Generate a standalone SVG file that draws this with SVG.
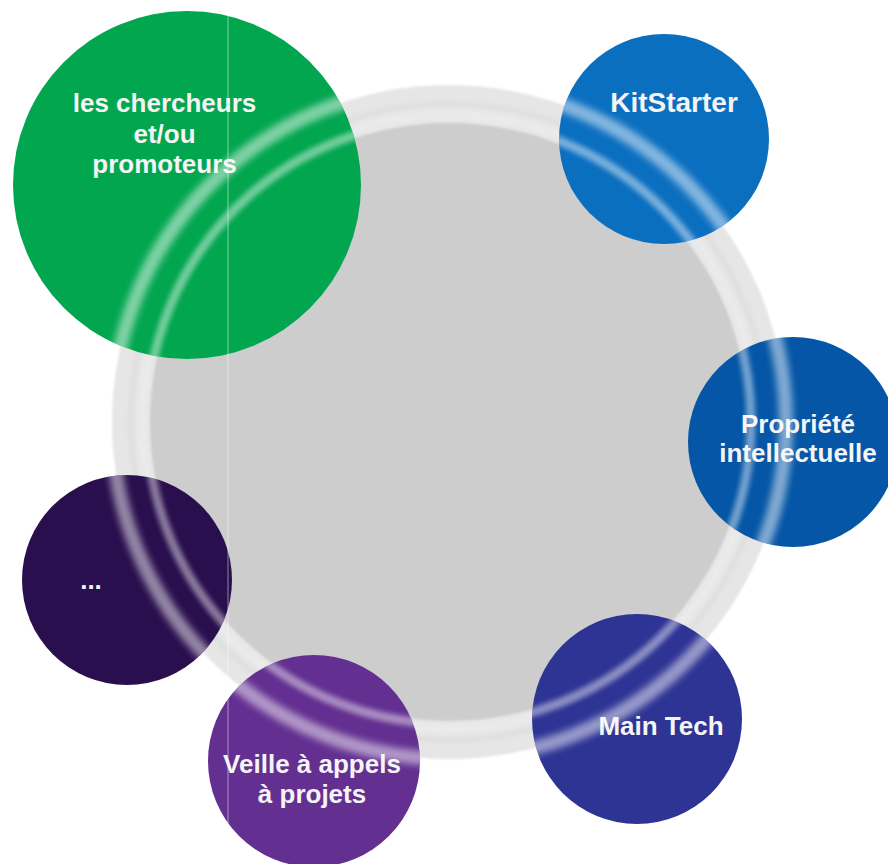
<svg xmlns="http://www.w3.org/2000/svg" width="888" height="864" viewBox="0 0 888 864">
  <defs>
    <style>
      .lbl { font-family: "Liberation Sans", Arial, sans-serif; font-weight: bold; font-size: 26px; fill: #f4f4f4; text-anchor: middle; }
      .hl { fill: none; stroke: #ffffff; }
    </style>
    <filter id="soft" x="-10%" y="-10%" width="120%" height="120%">
      <feGaussianBlur stdDeviation="1.2"/>
    </filter>
    <filter id="blur3" x="-10%" y="-10%" width="120%" height="120%">
      <feGaussianBlur stdDeviation="3.5"/>
    </filter>
    <filter id="blur2" x="-10%" y="-10%" width="120%" height="120%">
      <feGaussianBlur stdDeviation="2.5"/>
    </filter>
    <clipPath id="nodesClip">
      <circle cx="187" cy="185" r="174"/>
      <circle cx="664" cy="139" r="105"/>
      <circle cx="793" cy="442" r="105"/>
      <circle cx="637" cy="719" r="105"/>
      <circle cx="314" cy="761" r="106"/>
      <circle cx="127" cy="580" r="105"/>
    </clipPath>
  </defs>

  <rect width="888" height="864" fill="#ffffff"/>

  <g id="hub">
    <circle cx="449" cy="422" r="337" fill="#e6e6e6" filter="url(#soft)"/>
    <circle cx="449" cy="422" r="318" fill="none" stroke="#d9d9d9" stroke-width="3" filter="url(#blur2)"/>
    <circle cx="449" cy="422" r="307" fill="none" stroke="#ebebeb" stroke-width="8" filter="url(#blur2)"/>
    <circle cx="449" cy="422" r="299" fill="#cdcdcd" filter="url(#soft)"/>
  </g>

  <g id="connectors"></g>

  <g id="node-chercheurs">
    <circle cx="187" cy="185" r="174" fill="#02a64f"/>
    <text class="lbl" x="164.5" y="112">les chercheurs</text>
    <text class="lbl" x="164.5" y="143">et/ou</text>
    <text class="lbl" x="164.5" y="173">promoteurs</text>
  </g>

  <g id="node-kitstarter">
    <circle cx="664" cy="139" r="105" fill="#0b6fc0"/>
    <text class="lbl" x="674" y="112" style="font-size:28px">KitStarter</text>
  </g>

  <g id="node-propriete">
    <circle cx="793" cy="442" r="105" fill="#0556a6"/>
    <text class="lbl" x="798" y="433">Propriété</text>
    <text class="lbl" x="798" y="462">intellectuelle</text>
  </g>

  <g id="node-maintech">
    <circle cx="637" cy="719" r="105" fill="#2e3494"/>
    <text class="lbl" x="661" y="735">Main Tech</text>
  </g>

  <g id="node-veille">
    <circle cx="314" cy="761" r="106" fill="#633091"/>
    <text class="lbl" x="312" y="773">Veille à appels</text>
    <text class="lbl" x="312" y="803">à projets</text>
  </g>

  <g id="node-etc">
    <circle cx="127" cy="580" r="105" fill="#2a0f4e"/>
    <text class="lbl" x="91" y="589">...</text>
  </g>

  <g id="gloss" clip-path="url(#nodesClip)">
    <circle class="hl" cx="449" cy="422" r="337" stroke-width="14" opacity="0.5" filter="url(#blur3)"/>
    <circle class="hl" cx="449" cy="422" r="302" stroke-width="9" opacity="0.45" filter="url(#blur2)"/>
  </g>

  <line x1="228" y1="14" x2="228" y2="864" stroke="#ffffff" stroke-width="1.2" opacity="0.4"/>
</svg>
